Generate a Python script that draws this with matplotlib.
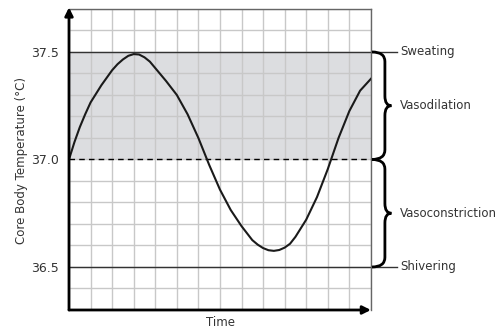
import matplotlib.pyplot as plt
from matplotlib.path import Path
from matplotlib.patches import PathPatch

# curve (time in grid units, temperature in degC)
time = [0, 0.25, 0.5, 0.75, 1.0, 1.5, 2.0, 2.25, 2.5, 2.75, 3.0, 3.25, 3.5, 3.75,
        4.0, 4.5, 5.0, 5.5, 6.0, 6.5, 7.0, 7.5, 8.0, 8.5, 8.75, 9.0, 9.25, 9.5,
        9.75, 10.0, 10.25, 10.5, 11.0, 11.5, 12.0, 12.5, 13.0, 13.5, 14.0]
temp = [37.0, 37.08, 37.15, 37.21, 37.265, 37.345, 37.415, 37.443, 37.465,
        37.482, 37.49, 37.488, 37.475, 37.455, 37.425, 37.365, 37.3, 37.21,
        37.1, 36.975, 36.86, 36.765, 36.69, 36.625, 36.604, 36.588, 36.578,
        36.575, 36.579, 36.59, 36.608, 36.64, 36.72, 36.825, 36.955, 37.1,
        37.225, 37.32, 37.375]

ytick_vals = [36.5, 37.0, 37.5]
ytick_labels = ['36.5', '37.0', '37.5']
labels = ['Sweating', 'Vasodilation', 'Vasoconstriction', 'Shivering']
label_y = [37.5, 37.25, 36.75, 36.5]

txt = '#333333'
fig = plt.figure(figsize=(5.04, 3.36), dpi=100)
ax = fig.add_axes([0.1369, 0.0774, 0.599, 0.896])
ax.set_xlim(0, 14)
ax.set_ylim(36.3, 37.7)

ax.set_xticks(range(15))
ax.set_xticklabels([])
grid_y = [round(36.3 + 0.1 * i, 1) for i in range(15)]
ax.set_yticks(grid_y)
ax.set_yticklabels([ytick_labels[ytick_vals.index(v)] if v in ytick_vals else '' for v in grid_y],
                   fontsize=9, color=txt)
ax.tick_params(length=0, pad=7)
ax.grid(True, color='#c8c8c8', lw=1)
ax.set_axisbelow(True)

ax.axhspan(37.0, 37.5, color='#dcdde0', zorder=0.2, lw=0)
ax.plot(time, temp, color='#1a1a1a', lw=1.5, zorder=3, solid_joinstyle='round')
ax.plot([0, 14], [37.0, 37.0], color='black', lw=1, ls=(0, (4, 3)), zorder=2)
for v in (37.5, 36.5):
    ax.plot([0, 15.2], [v, v], color='#333333', lw=1, clip_on=False, zorder=2)

for s in ('top', 'right'):
    ax.spines[s].set_color('#666666')
    ax.spines[s].set_linewidth(1)
for s in ('left', 'bottom'):
    ax.spines[s].set_visible(False)
ax.annotate('', xy=(0, 1.005), xytext=(0, 0), xycoords='axes fraction',
            arrowprops=dict(arrowstyle='-|>', color='black', lw=2, mutation_scale=12, shrinkA=0, shrinkB=0))
ax.annotate('', xy=(1.0, 0), xytext=(0, 0), xycoords='axes fraction',
            arrowprops=dict(arrowstyle='-|>', color='black', lw=2, mutation_scale=12, shrinkA=0, shrinkB=0))


def brace(ytop, ybot, x0=14.05, xs=14.65, xt=14.95, r=0.045):
    ym = (ytop + ybot) / 2
    verts = [(x0, ytop), (xs, ytop), (xs, ytop - r),
             (xs, ym + r),
             (xs, ym), (xt, ym),
             (xs, ym), (xs, ym - r),
             (xs, ybot + r),
             (xs, ybot), (x0, ybot)]
    codes = [Path.MOVETO, Path.CURVE3, Path.CURVE3, Path.LINETO,
             Path.CURVE3, Path.CURVE3, Path.CURVE3, Path.CURVE3,
             Path.LINETO, Path.CURVE3, Path.CURVE3]
    ax.add_patch(PathPatch(Path(verts, codes), fill=False, lw=2, color='black',
                           clip_on=False, zorder=4))


brace(37.5, 37.0)
brace(37.0, 36.5)

for t, y in zip(labels, label_y):
    ax.text(15.35, y, t, fontsize=8.5, color=txt, va='center', ha='left', clip_on=False)

fig.text(22 / 504, 1 - 160 / 336, 'Core Body Temperature (°C)', fontsize=8.5, color=txt,
         rotation=90, ha='center', va='center')
fig.text(220 / 504, 1 - 323 / 336, 'Time', fontsize=8.5, color=txt, ha='center', va='center')

fig.savefig('out.png', dpi=100)
